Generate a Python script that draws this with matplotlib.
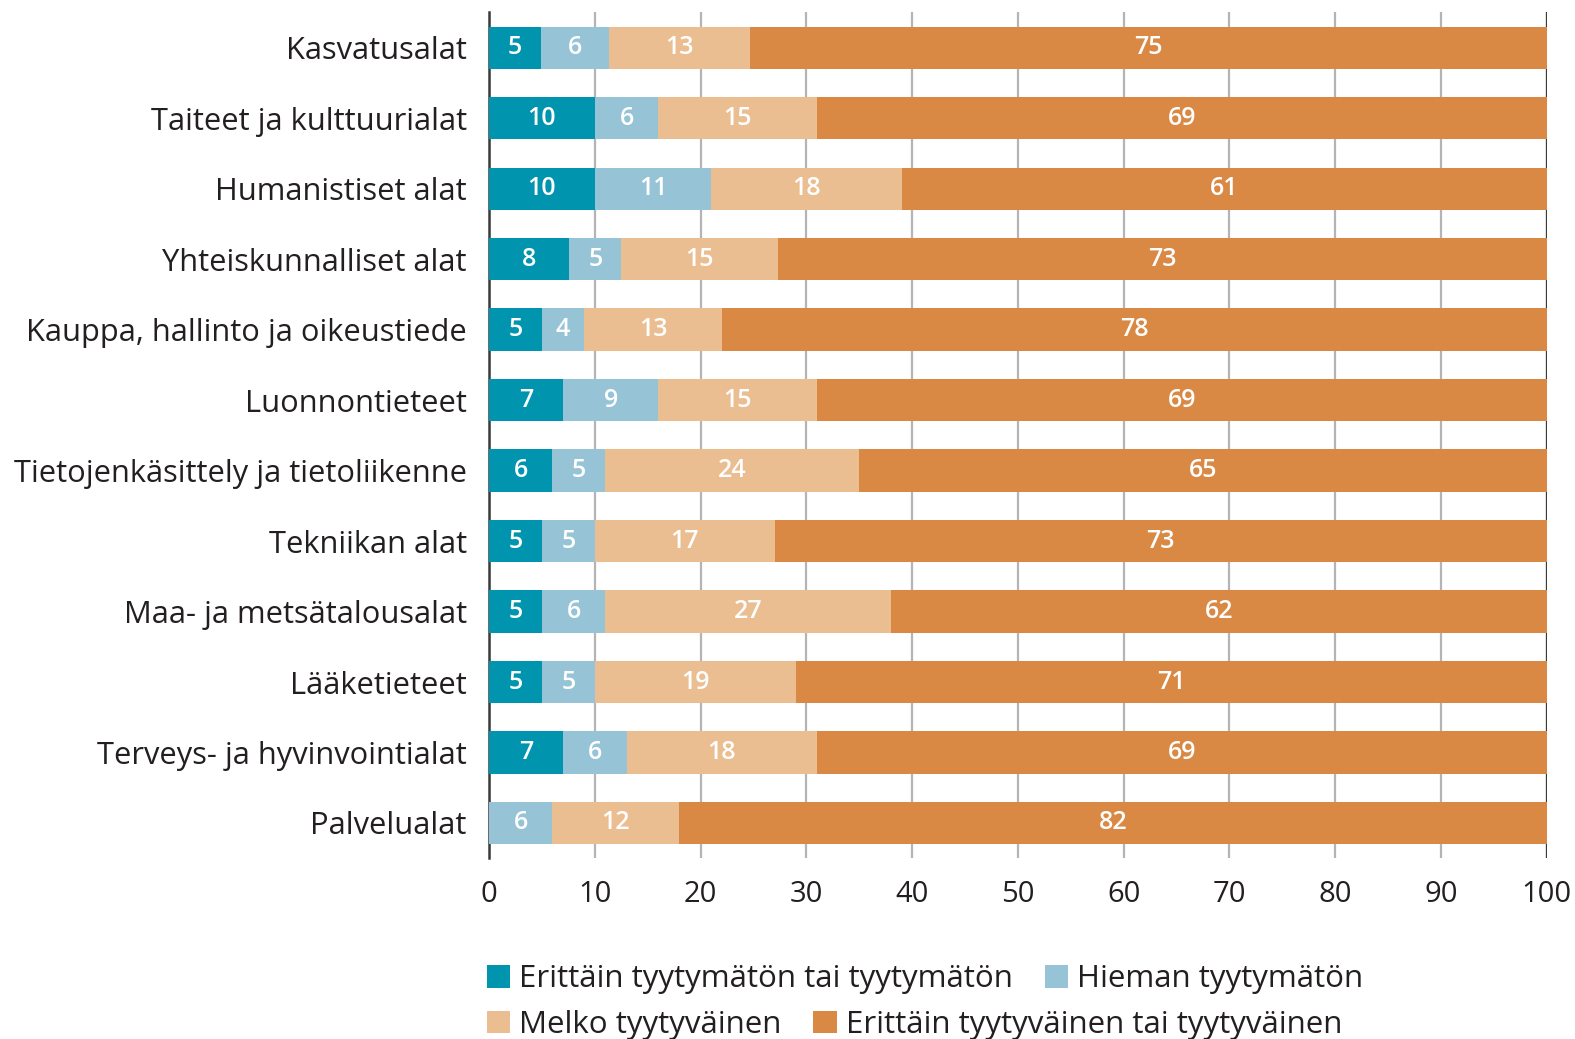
import matplotlib
matplotlib.use('Agg')
import matplotlib.pyplot as plt
from matplotlib.patches import Patch
import numpy as np

plt.rcParams['font.family'] = ['Open Sans', 'DejaVu Sans']

categories = ['Kasvatusalat', 'Taiteet ja kulttuurialat', 'Humanistiset alat',
              'Yhteiskunnalliset alat', 'Kauppa, hallinto ja oikeustiede',
              'Luonnontieteet', 'Tietojenkäsittely ja tietoliikenne',
              'Tekniikan alat', 'Maa- ja metsätalousalat', 'Lääketieteet',
              'Terveys- ja hyvinvointialat', 'Palvelualat']

tyytymaton = [4.9, 10, 10, 7.6, 5, 7, 6, 5, 5, 5, 7, 0]
hieman = [6.4, 6, 11, 4.9, 4, 9, 5, 5, 6, 5, 6, 6]
melko = [13.4, 15, 18, 14.8, 13, 15, 24, 17, 27, 19, 18, 12]
tyytyvainen = [75.3, 69, 61, 72.7, 78, 69, 65, 73, 62, 71, 69, 82]

series = [tyytymaton, hieman, melko, tyytyvainen]
names = ['Erittäin tyytymätön tai tyytymätön', 'Hieman tyytymätön',
         'Melko tyytyväinen', 'Erittäin tyytyväinen tai tyytyväinen']
colors = ['#0094AE', '#96C4D6', '#EBBE91', '#D98943']
txtc = '#231f20'

fig = plt.figure(figsize=(15.75, 10.39), dpi=100)
ax = fig.add_axes([0.3105, 0.174, 0.6715, 0.814])

y = np.arange(len(categories))
left = np.zeros(len(categories))
for vals, c in zip(series, colors):
    vals = np.array(vals, dtype=float)
    ax.barh(y, vals, left=left, height=0.6, color=c, zorder=3)
    for yi, (l, v) in enumerate(zip(left, vals)):
        if v > 0:
            ax.text(l + v / 2, yi, '%d' % round(v), ha='center', va='center',
                    color='white', fontsize=18, fontweight='semibold', zorder=4)
    left = left + vals

ax.set_xlim(0, 100)
ax.set_ylim(len(categories) - 0.5, -0.5)
ax.set_xticks(np.arange(0, 101, 10))
ax.set_yticks(y)
ax.set_yticklabels(categories, fontsize=22.2, color=txtc)
ax.tick_params(axis='x', length=0, labelsize=21, labelcolor=txtc, pad=16)
ax.tick_params(axis='y', length=0, pad=16)
ax.grid(axis='x', color='#b4b4b4', linewidth=1.6, zorder=0)
for s in ['top', 'bottom', 'right']:
    ax.spines[s].set_visible(False)
ax.spines['left'].set_color('#3a3a3a')
ax.spines['left'].set_linewidth(1.8)
ax.axvline(100, color='#3a3a3a', linewidth=1.6, zorder=2)

h = [Patch(facecolor=c) for c in colors]
kw = dict(ncol=2, frameon=False, fontsize=22.5, handlelength=0.75, handleheight=0.75,
          handletextpad=0.3, columnspacing=1.0, borderaxespad=0, borderpad=0)
leg1 = fig.legend(h[:2], names[:2], loc='upper left', bbox_to_anchor=(0.309, 0.072), **kw)
leg2 = fig.legend(h[2:], names[2:], loc='upper left', bbox_to_anchor=(0.309, 0.028), **kw)
for leg in (leg1, leg2):
    for t in leg.get_texts():
        t.set_color(txtc)

fig.savefig('out.png', dpi=100)
